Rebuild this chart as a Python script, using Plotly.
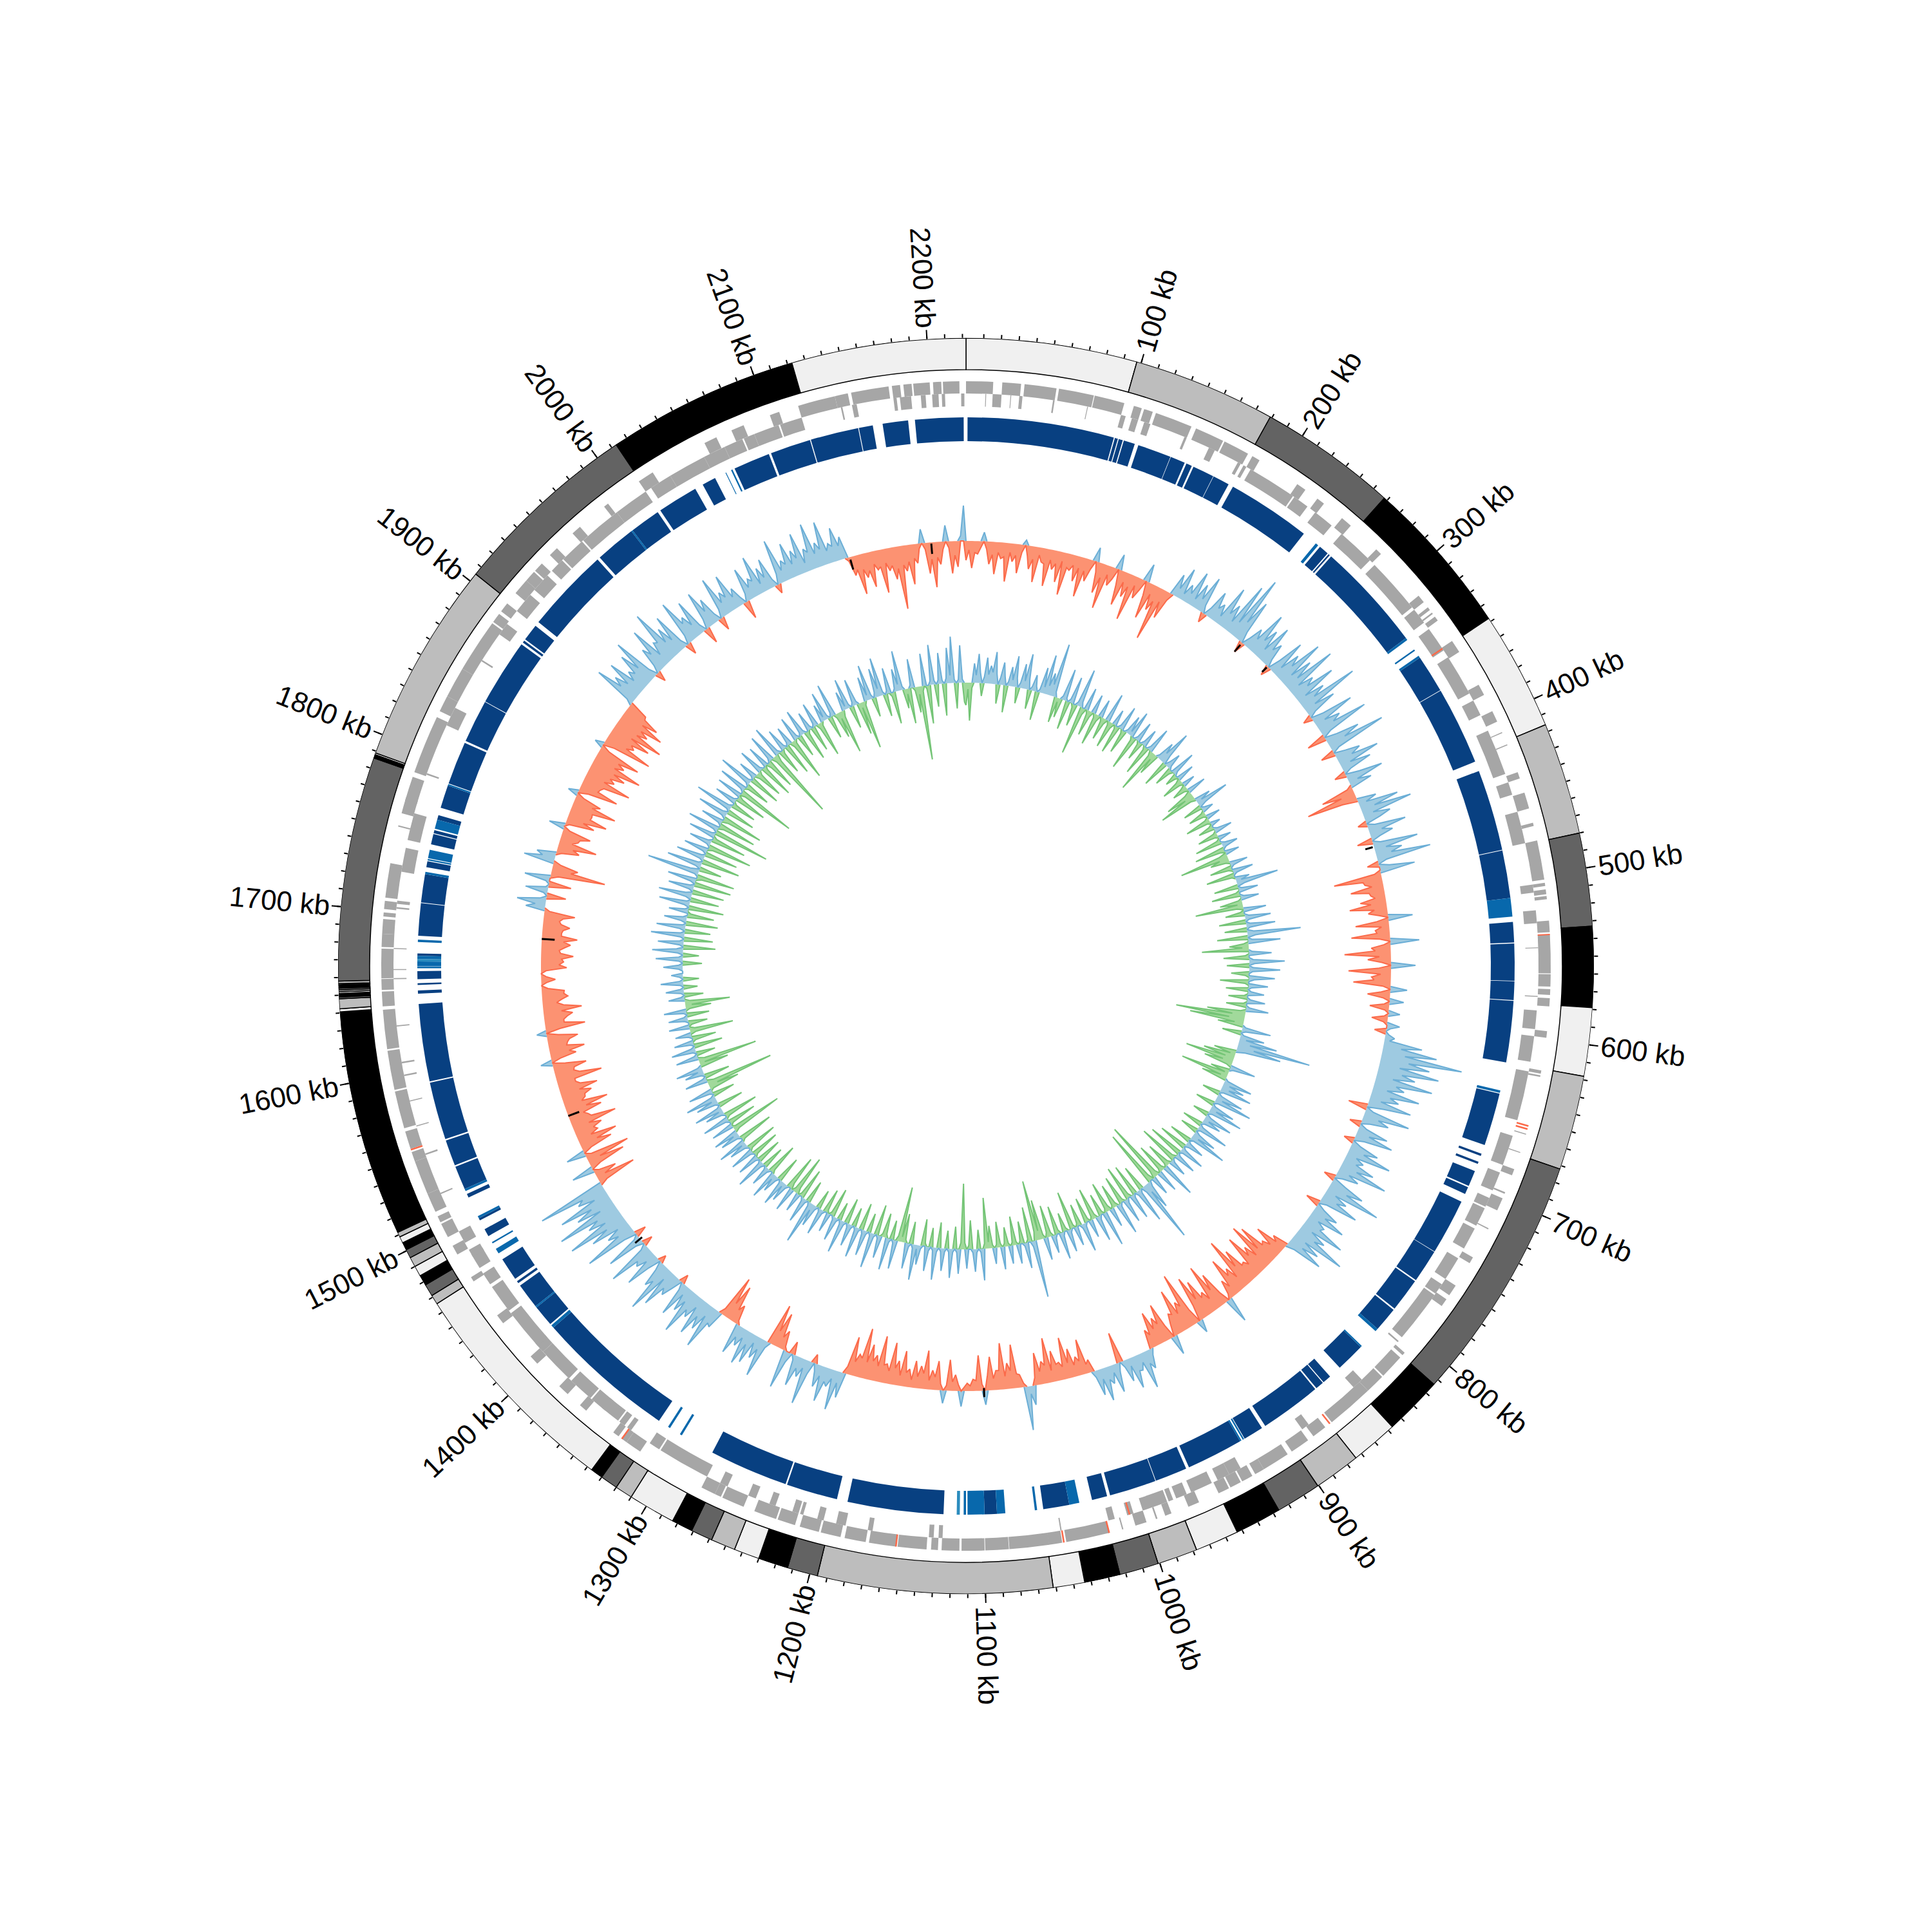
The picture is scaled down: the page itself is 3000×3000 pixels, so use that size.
import math
import plotly.graph_objects as go

GENOME_KB = 2222
BIN_KB = 5
CX, CY = 1492, 1492   # plot centre inside the figure (page body adds 8 px)
IDEO_R = (926, 975)
OUTER_R = (889, 908)
INNER_R = (869, 889)
HEAT_R = (815, 852)
SKEW_BASE = 660
PHI_BASE = 440

contig_starts = [0, 97.5, 179, 258, 348, 416, 480, 533, 579, 618, 672, 813.5, 847, 874, 900.6, 926.5, 953, 978,
                 1001, 1023.4, 1043.7, 1061.7, 1195.6, 1213, 1230, 1244.6, 1258.6, 1271, 1283, 1310, 1320, 1330,
                 1337, 1465.6, 1471, 1478, 1484, 1490, 1495.6, 1500.6, 1505, 1508.7, 1511.5, 1512, 1640.6, 1642.4,
                 1648, 1649, 1651, 1652, 1653, 1654, 1656, 1656.6, 1658, 1786, 1788, 1789, 1905, 2013, 2122.6]
contig_palette = ["#f0f0f0", "#bdbdbd", "#636363", "#000000"]

label_kb = list(range(100, 2300, 100))

forward_genes = [(0,16.5),(22,33.4),(35.5,55),(56.5,78),(78.5,97),(103,108),(109.5,115),(117,140),(143,161),(162,178),
    (181,186),(213,219),(228,233),(247,254),(275,279),(313,318),(322,324),(326,327),(329,332),(347,355),(378,385),(396,403),
    (410,410.6),(418,418.6),(436,440),(449,459),(468,470),(479,503),(505,507),(509,512),(513,515),(528,535),(536.5,560),
    (560.5,568),(569.5,573),(575,580),(595,599),(619,621),(622,623),(658.4,659),(670,670.6),(681,685),(696,697),(700,708),
    (720,720.7),(740,744),(760,767),(770,775),(811,813),(815,830),(831,843),(843,872),(877,886),(890,902),(905,922),(922,928),
    (930,937),(938,945),(946,953),(966,973),(984,988),(993,994),(1000,1007),(1014.6,1015.4),(1023.5,1050),(1052.5,1060.7),
    (1060.5,1084.7),(1085,1099.3),(1099.7,1113.7),(1115,1125.8),(1128,1132.2),(1134.9,1152.5),(1153.5,1170),(1172,1185),
    (1187.5,1199.8),(1201,1213),(1216,1227),(1228,1242),(1249,1263),(1264,1268),(1268,1277),(1320,1330),(1330,1334),(1336,1340),
    (1361,1366),(1376,1383),(1402,1408),(1434,1440),(1465,1468),(1484,1490),(1496,1505),(1506,1510),(1513,1525),(1525,1546),
    (1546,1552),(1554,1565),(1567,1590),(1591,1615),(1616,1640),(1642,1651),(1652,1658.6),(1659,1677),(1678,1686),(1686,1695),
    (1696.5,1699),(1701,1706),(1708,1729),(1751.6,1752.4),(1760,1770),(1768,1783),(1786,1822),(1826,1836),(1836,1855),(1855,1888),
    (1889,1895),(1897,1903),(1911,1921),(1921,1928),(1929,1935),(1942,1948),(1961,1967),(1986,1989),(2012,2022),(2058,2066),
    (2076,2084),(2101,2107),(2119,2142),(2142,2150),(2152,2175),(2177,2182),(2184,2189),(2190,2200),(2202,2207),(2208,2218)]

reverse_genes = [(12,12.5),(16.5,22),(27.5,28),(33,35),(54,55),(75.5,76),(97,100),(104,108),(112,116),(138.5,140),(155,159),
    (175,177),(179,181),(184,215),(216,226),(232,245),(253,277),(281,316),(318,328),(333,349),(354,380),(385,395),(405.7,434.5),
    (440,448),(459,479),(505,510),(521,529),(544,544.5),(574,574.6),(583,594.6),(599,615),(621,652),(662,681),(686,698),(703,709),
    (710,722),(724,738),(745,760),(764,771),(772,805),(808,809),(841,848),(884,889),(934,942),(942,950),(954,968),(971,978),(980,983),
    (984,1000),(1006,1010),(1018,1022),(1051.6,1052.4),(1125.5,1128),(1131,1134),(1169,1172),(1186,1192),(1200,1204),(1213,1215),
    (1216,1220),(1231,1235),(1244,1249),(1263,1268),(1277,1310),(1311,1318),(1332,1335),(1337,1341),(1342,1355),(1352,1363),(1364,1380),
    (1382,1405),(1405,1412),(1410,1436),(1438,1456),(1458,1466),(1470,1480),(1478,1483),(1488,1496),(1521.6,1522.4),(1547.5,1548.5),
    (1566,1566.6),(1582,1582.6),(1598,1599),(1606,1607),(1629,1629.7),(1658.3,1659),(1664,1664.6),(1677,1677.6),(1702,1703),(1705,1707),
    (1725,1740),(1745,1762),(1787,1788),(1820,1832),(1865,1866),(1885,1893),(1903,1916),(1920,1932),(1936,1945),(1946,1962),(1963,1990),
    (1990,2012),(2016,2030),(2030,2054),(2054,2068),(2068,2080),(2081,2088),(2088,2104),(2105,2119),(2144,2145),(2151,2154),(2177,2179),
    (2181,2188),(2194,2197),(2201,2205),(2207,2209),(2219,2221)]

rna_genes_outer = [(536,536.8),(873,874),(1023,1024),(1051,1052),(1153,1154),(1333,1334),(1553,1554),(653,654),(655,656)]
rna_genes_inner = [(347.2,348.2),(1008,1009)]

heat_dark = [(1,96.5),(97.2,99.2),(99.8,102.5),(103.2,110.6),(113,135),(135.3,145),(146.2,150),(151.2,165.3),(165.6,176.5),
    (179.7,234.6),(248,254.5),(255.3,256.3),(257.5,329),(344.5,369.2),(369.6,420.5),(427,480),(480.4,511.5),(527,540.3),
    (541,565),(565.4,577.5),(578,618),(638.6,673),(679,680.5),(684.5,686),(691,701.3),(702.3,707),(712.5,749),(749.3,771),
    (772,794),(795,811),(827,846),(854.4,860),(860.6,866),(867,907),(909.5,922.6),(926,963),(965,986),(986.4,1017),(1019,1029),
    (1044,1061),(1091,1099),(1125.5,1188),(1195,1228.5),(1229.5,1281),(1321,1412),(1415,1429),(1430,1446.6),(1448.5,1450),
    (1452,1467),(1484.5,1489.6),(1496,1497.5),(1512.5,1515),(1518.5,1534),(1535,1552),(1553,1590.7),(1591.5,1642),(1648.6,1650.7),
    (1654.3,1655.4),(1658,1663.2),(1673,1674.6),(1686,1707.2),(1707.6,1726),(1730.6,1734.5),(1745.6,1752.4),(1753,1755),(1762,1765),
    (1770,1785),(1786.5,1814.6),(1816,1844),(1844.4,1888),(1889.5,1891),(1892,1903),(1906,1961.6),(1963.5,1990),(1991,2011),
    (2013,2039.5),(2045,2054),(2068,2092),(2093.5,2120),(2120.6,2152),(2152.5,2161.6),(2168,2184.6),(2189,2220.5)]
heat_mid = [(244.5,246.5),(329,330.5),(338,339),(343,344.5),(511.5,523.6),(636.4,638),(811,813),(826,827),(923,924),(925,926),
    (1037.4,1044),(1065,1066.5),(1085.6,1091),(1099,1110),(1111,1112.5),(1303.5,1305),(1312.5,1314),(1412,1414),(1429,1430),
    (1471.6,1475),(1479,1480),(1497.5,1499),(1517,1518.5),(1665,1666.3),(1666.5,1669.4),(1671,1673),(1682,1683.5),(1726,1727.5),
    (1735,1736),(1736.5,1742),(1756,1762),(1785,1786),(1990,1991),(2061.5,2062),(2065.5,2066.5)]
heat_light = [(1115,1117),(1669.4,1671)]

# signed track values per 5 kb bin (positive = outward)
skew_values = [
    -30,-42,-20,14,-35,-50,-25,-60,-28,-45,8,-36,-55,-22,-58,-30,-48,-66,-25,-40,
    -62,-35,22,-48,-70,-30,24,-55,-38,-72,-33,28,-58,-40,-85,-45,35,50,28,55,
    40,58,-15,45,30,66,42,85,105,70,-18,35,70,48,62,38,-16,60,45,78,
    52,85,40,70,45,95,50,-14,68,40,80,-30,55,92,-22,40,66,48,-18,58,
    35,-52,-80,30,62,80,42,-14,60,36,-24,70,42,85,-18,55,-75,-28,-52,-22,
    -40,-58,-30,38,-52,-22,-60,45,-30,-72,-36,38,-66,-30,-58,26,-35,22,-30,18,
    -25,20,-18,15,60,85,127,78,95,60,90,48,75,45,68,-30,72,42,-18,48,
    60,-16,45,70,30,52,78,36,-18,55,88,38,62,-22,40,58,30,70,45,85,
    48,60,-25,-50,-32,-68,-78,-45,-70,-30,-60,-85,-40,-62,-30,40,-55,-75,-35,-60,
    -72,20,-88,-45,-70,-35,30,-60,-42,-55,-30,30,58,25,50,35,-48,45,28,52,
    40,-20,-55,-30,-45,-65,-28,-48,-70,-35,-50,30,68,-20,-68,-40,-72,-30,-52,22,
    -55,-18,-12,24,-25,-48,20,-45,-30,-60,-35,-42,-28,-55,-38,-65,-30,-72,-40,-55,
    -78,-35,-60,40,62,28,55,35,-14,70,30,48,-20,60,-30,-55,-65,60,35,48,
    55,30,48,-30,-58,-68,28,70,45,60,38,72,40,55,-14,35,62,80,42,-12,
    58,32,72,-16,60,-18,85,40,62,95,55,100,62,85,48,108,-62,-35,35,-58,
    -70,30,-50,-62,-35,-45,-72,-30,-55,-68,-35,-48,-60,-28,-72,-30,-52,18,-40,-55,
    -30,-48,15,-62,-30,-45,-60,-22,-40,-35,0,-22,0,-40,-35,-50,-28,-45,-55,-30,
    -42,-25,-48,30,45,-30,35,-35,40,-85,-40,48,30,-35,-60,-28,-45,25,-45,-62,
    -35,-70,-42,16,-62,-30,-75,-45,-58,-80,-48,-68,14,-78,-45,-66,-82,-52,-72,-58,
    -30,70,45,62,35,58,75,-16,42,70,38,85,48,62,-18,72,38,58,-25,60,
    42,-20,65,35,58,30,-28,52,30,62,38,48,-14,70,32,56,40,64,35,72,
    38,68,30,52,35,-30,-62,-38,-55,-30,-68,-35,-50,-98,-40,-62,-30,22,-48,-70,
    -35,25,-50,-40,55]

# low points between those peaks (one between each pair of neighbouring bins)
skew_troughs = [
    -14,-18,-10,-12,-20,-16,-22,-14,-18,-12,-16,-20,-12,-24,-16,-20,-14,-22,-16,-18,
    -20,-14,-16,-22,-14,-18,-24,-16,-20,-14,-18,-22,-16,-24,-20,-12,14,10,16,12,
    18,12,14,20,12,24,16,22,30,18,14,20,26,16,24,12,20,14,28,18,
    22,16,26,14,24,18,12,20,16,26,14,20,28,12,18,24,16,12,22,14,
    -8,-22,-24,12,22,16,24,12,20,14,12,18,24,14,16,-10,-30,-18,-24,-16,
    -24,-20,-14,-18,-12,-20,-16,-10,-24,-18,-14,-20,-16,-26,-12,-14,-10,-8,-6,-6,
    -6,6,5,8,28,36,44,32,38,26,34,22,30,18,26,12,24,14,12,20,
    16,14,24,16,20,26,18,12,22,30,16,24,12,14,22,16,26,18,30,20,
    22,14,-16,-20,-28,-30,-24,-32,-22,-28,-34,-20,-30,-16,-8,-18,-30,-20,-28,-32,
    -26,-24,-36,-28,-32,-20,-22,-30,-26,-20,10,20,14,24,12,10,14,12,20,16,
    10,-14,-22,-18,-24,-20,-26,-18,-28,-20,-12,12,-6,-22,-28,-20,-30,-18,-24,-10,
    -16,-8,-6,-10,-14,-8,-10,-20,-14,-24,-18,-12,-22,-16,-26,-20,-28,-24,-30,-26,
    -30,-22,-12,18,14,22,16,12,20,14,18,8,16,-6,-18,-24,10,18,12,20,
    14,18,-6,-20,-26,-10,24,18,26,16,28,20,14,12,18,26,16,30,14,20,
    16,26,10,12,8,20,24,18,32,28,36,24,34,22,38,-12,-14,-8,-16,-20,
    -10,-14,-28,-22,-30,-26,-34,-24,-32,-28,-36,-30,-34,-28,-38,-32,-20,-14,-30,-28,
    -34,-18,-22,-30,-36,-28,-32,-30,-34,-10,-8,-8,-8,-28,-32,-30,-36,-34,-30,-32,
    -28,-30,-8,16,10,6,4,6,-12,-30,-12,20,-8,-24,-20,-30,-10,-6,-26,-34,
    -34,-30,-12,-16,-28,-34,-30,-36,-38,-34,-36,-14,-18,-34,-38,-32,-36,-38,-34,-32,
    10,30,24,20,26,28,14,12,28,18,34,26,22,12,14,30,20,12,16,24,
    12,14,20,24,18,12,12,18,24,14,20,12,16,18,24,20,26,14,28,22,
    26,20,24,22,-6,-22,-24,-28,-20,-26,-22,-28,-34,-30,-26,-22,-8,-10,-26,-24,
    -12,-10,-22,8]

phi_values = [
    -35,-59,30,45,-20,40,28,50,-30,35,-42,30,48,-25,38,55,-30,25,-45,40,
    62,35,84,-40,-30,50,-45,42,-35,60,-76,35,-40,30,-50,28,-35,45,-42,25,
    -45,38,-38,30,42,-55,32,-30,28,-48,40,-71,-35,30,55,-42,25,-30,40,-20,
    28,-35,20,-25,30,-45,-60,25,52,-30,18,-28,22,-40,15,-25,28,-32,20,-42,
    25,-48,22,-77,-30,28,-35,32,-45,22,66,-38,30,-45,28,-35,-75,35,-30,40,
    -42,45,-35,83,-48,50,-30,-73,35,-40,55,-35,48,-28,40,-45,30,-35,25,-30,
    28,-32,35,-60,-108,-85,-40,45,-30,38,60,115,70,-35,-50,-77,-45,40,-30,-76,
    -40,45,35,50,-28,42,60,-30,38,55,-25,45,30,-32,50,-28,38,60,-35,30,
    -45,40,-55,35,-63,28,-40,55,-48,35,-97,30,-90,45,98,-40,55,-50,40,-55,
    38,-45,50,-38,30,-48,55,-35,40,-50,28,-40,45,-35,30,-60,35,-30,42,-45,
    28,-50,35,-62,-94,89,-55,40,-35,30,-45,28,-30,35,-40,25,-35,-79,49,-30,
    35,-45,30,-102,38,-35,45,-28,35,-40,50,-30,38,-42,30,55,-35,40,-45,-86,
    45,-30,50,-38,35,-48,55,-30,40,-42,48,-30,35,-40,52,-28,38,-45,30,-38,
    42,-30,35,68,-35,40,-48,30,-63,38,-55,30,42,-40,28,45,-50,32,-35,48,
    -40,35,-45,38,-50,30,45,-55,32,40,-82,35,-45,42,-55,30,45,-40,35,49,
    -35,38,-48,-106,35,-40,30,42,-45,-93,35,-30,38,-45,30,-38,25,-68,32,-30,
    30,-35,35,-40,-70,25,-30,28,-22,35,-25,18,0,30,-30,42,-25,48,-50,40,
    -45,52,-40,45,-50,35,-42,30,-55,48,-45,52,-50,40,-58,45,-60,82,-35,55,
    -60,45,-52,38,-70,35,-55,42,-88,50,-60,35,-65,48,-45,60,-40,35,-50,40,
    -92,45,-40,55,-50,30,-45,40,-55,35,-48,45,-110,50,-40,35,-50,30,-67,38,
    -35,42,-48,30,-40,38,-55,28,45,-35,52,-40,-68,30,48,-35,42,-50,-75,38,
    55,-30,45,60,-35,40,-50,35,62,-30,-55,45,-40,-115,50,-60,62,-35,48,-50,
    55,72,-40,58,-30]

phi_troughs = [
    -10,-8,12,16,10,14,18,16,12,14,6,10,14,8,12,16,6,8,5,10,
    14,18,8,-6,6,4,5,-6,6,8,-10,-6,-8,-6,-10,-6,-8,-6,-8,-6,
    5,-6,5,6,-6,5,-5,6,-6,6,-8,-10,5,14,16,8,5,-6,6,-5,
    -8,-6,-8,-6,-10,-14,-8,8,12,6,-5,-5,-6,-5,-6,5,-5,-5,-5,6,
    5,-8,-12,-14,-6,5,-6,5,-5,8,12,5,-6,5,-5,-8,-10,-6,6,6,
    6,5,10,12,6,-8,-10,5,-6,6,8,6,5,-6,8,-6,5,5,-5,5,
    -5,5,-8,-20,-24,-14,5,6,5,10,18,26,14,-8,-14,-16,-8,5,-6,-10,
    5,10,12,6,6,10,6,5,10,6,8,8,5,6,5,8,10,6,5,6,
    5,5,5,-6,5,-6,-5,-6,-6,-8,-12,-10,8,14,10,6,6,5,-6,6,
    -5,5,-6,-5,-8,-6,-5,6,-6,-5,-5,5,6,-5,-5,5,-5,6,-6,5,
    -6,-8,-6,-14,-14,8,-5,5,-5,-5,-5,-5,-5,-6,-5,-5,-10,-8,5,5,
    5,-6,-10,-10,5,5,5,5,5,6,5,6,-5,5,6,6,5,-5,-8,-8,
    5,5,-6,-5,5,5,5,5,6,5,5,5,6,5,6,5,5,-5,-5,5,
    5,6,10,6,5,5,-5,-10,-6,-10,5,6,5,6,8,-6,5,5,6,5,
    5,-5,5,-5,5,6,-5,5,8,-8,-5,-5,5,-6,5,6,5,6,8,6,
    5,-5,-14,-10,5,5,8,6,-8,-10,5,5,6,5,-5,5,-8,-8,-5,5,
    5,5,-6,-10,-8,5,5,5,5,5,5,0,6,6,6,6,8,10,6,6,
    6,6,8,5,8,6,-5,5,8,5,8,10,6,6,8,-8,5,14,8,6,
    6,5,6,-8,5,5,-6,5,6,-8,5,-10,6,8,5,6,-5,5,-8,-8,
    5,-5,5,5,5,-8,-6,5,-6,-8,6,-8,-12,5,-6,5,5,-8,-5,5,
    5,5,-5,5,5,-8,-5,6,5,6,-6,-10,-10,5,5,6,5,-8,-6,8,
    6,8,12,5,5,-6,5,10,5,-8,5,-5,-12,-8,-5,6,6,6,5,8,
    12,5,5,5]

# short black marks on the middle track: position, inner end, outer end (offset from its baseline)
mark_kb = [250, 279, 455, 1096, 1420, 1539, 1689, 2124, 2193]
mark_in = [-18, -12, -14, -4, -4, -18, -20, -20, -18]
mark_out = [-4, -2, -2, 10, 10, 0, 0, -4, -2]


def deg(kb):
    return kb * 360.0 / GENOME_KB


def rings(intervals, radii):
    return dict(theta=[deg((a + b) / 2) for a, b in intervals],
                width=[deg(b - a) for a, b in intervals],
                base=[radii[0]] * len(intervals),
                r=[radii[1] - radii[0]] * len(intervals))


fig = go.Figure()

# ideogram
ends = contig_starts[1:] + [GENOME_KB]
fig.add_trace(go.Barpolar(**rings(list(zip(contig_starts, ends)), IDEO_R),
                          marker=dict(color=[contig_palette[i % 4] for i in range(len(ends))],
                                      line=dict(color="black", width=1.5)),
                          hoverinfo="skip", name="contigs"))

# genes and heat track
for ivs, radii, col, nm in [(forward_genes, OUTER_R, "#a6a6a6", "forward"),
                            (reverse_genes, INNER_R, "#a6a6a6", "reverse"),
                            (rna_genes_outer, OUTER_R, "#fb6a4a", "rna forward"),
                            (rna_genes_inner, INNER_R, "#fb6a4a", "rna reverse"),
                            (heat_dark, HEAT_R, "#084081", "heat high"),
                            (heat_mid, HEAT_R, "#0868ac", "heat mid"),
                            (heat_light, HEAT_R, "#2b8cbe", "heat low")]:
    fig.add_trace(go.Barpolar(**rings(ivs, radii), marker=dict(color=col, line=dict(width=0)),
                              hoverinfo="skip", name=nm))


def signal(peaks, lows, base, sign, fill, line, width=2):
    kb, vals = [], []
    for i, p in enumerate(peaks):
        kb.append(i * BIN_KB)
        vals.append(p)
        if i < len(lows):
            kb.append((i + 0.5) * BIN_KB)
            vals.append(lows[i])
    kb.append(GENOME_KB)
    vals.append(peaks[0])
    th = [deg(k) for k in kb]
    part = [max(sign * v, 0) for v in vals]
    rr = [base + sign * p for p in part]
    fig.add_trace(go.Scatterpolar(theta=th + th[::-1], r=rr + [base] * len(th), mode="lines", fill="toself",
                                  fillcolor=fill, line=dict(width=0, color=fill), hoverinfo="skip", showlegend=False))
    show = [part[i] > 0 or (i > 0 and part[i - 1] > 0) or (i < len(part) - 1 and part[i + 1] > 0)
            for i in range(len(part))]
    fig.add_trace(go.Scatterpolar(theta=th, r=[x if s else None for x, s in zip(rr, show)], mode="lines",
                                  connectgaps=False, line=dict(width=width, color=line),
                                  hoverinfo="skip", showlegend=False))


signal(phi_values, phi_troughs, PHI_BASE, -1, "#a1d99b", "#74c476")
signal(phi_values, phi_troughs, PHI_BASE, 1, "#9ecae1", "#6baed6")
signal(skew_values, skew_troughs, SKEW_BASE, 1, "#9ecae1", "#6baed6")
signal(skew_values, skew_troughs, SKEW_BASE, -1, "#fc9272", "#fb6a4a")

mt, mr = [], []
for k, a, b in zip(mark_kb, mark_in, mark_out):
    mt += [deg(k), deg(k), None]
    mr += [SKEW_BASE + a, SKEW_BASE + b, None]
fig.add_trace(go.Scatterpolar(theta=mt, r=mr, mode="lines", line=dict(color="black", width=3),
                              hoverinfo="skip", showlegend=False))

# second overlaid polar subplot carries the long ticks
fig.add_trace(go.Scatterpolar(theta=[0], r=[0], mode="markers", marker=dict(opacity=0, size=1),
                              subplot="polar2", hoverinfo="skip", showlegend=False))

dom_x = [(CX - IDEO_R[1]) / 3000, (CX + IDEO_R[1]) / 3000]
dom_y = [1 - (CY + IDEO_R[1]) / 3000, 1 - (CY - IDEO_R[1]) / 3000]


def polar_layout(tick_kb, ticklen, tickwidth):
    return dict(domain=dict(x=dom_x, y=dom_y), bgcolor="rgba(0,0,0,0)", barmode="overlay",
                radialaxis=dict(visible=False, range=[0, IDEO_R[1]]),
                angularaxis=dict(direction="clockwise", rotation=90, thetaunit="degrees", showgrid=False,
                                 showline=False, showticklabels=False, tickmode="array",
                                 tickvals=[deg(k) for k in tick_kb], ticks="outside", ticklen=ticklen,
                                 tickwidth=tickwidth, tickcolor="black"))


annotations = []
LABEL_GAP = 18
for kb in label_kb:
    th = deg(kb)
    text = f"{kb} kb"
    half = (len(text) * 22.2) / 2
    rad = IDEO_R[1] + LABEL_GAP + half
    ang = th - 90 if th < 180 else th - 270
    annotations.append(dict(text=text, showarrow=False, textangle=ang, xanchor="center", yanchor="middle",
                            xref="paper", yref="paper",
                            x=(CX + rad * math.sin(math.radians(th))) / 3000,
                            y=1 - (CY - rad * math.cos(math.radians(th))) / 3000,
                            font=dict(family="Liberation Sans", size=44, color="black")))

fig.update_layout(width=3000, height=3000, autosize=False, margin=dict(l=0, r=0, t=0, b=0), showlegend=False,
                  paper_bgcolor="white", plot_bgcolor="white",
                  polar=polar_layout(range(10, GENOME_KB, 10), 6, 1.5),
                  polar2=polar_layout(range(100, GENOME_KB, 100), 14, 2),
                  annotations=annotations)

fig.write_html("out.html")
